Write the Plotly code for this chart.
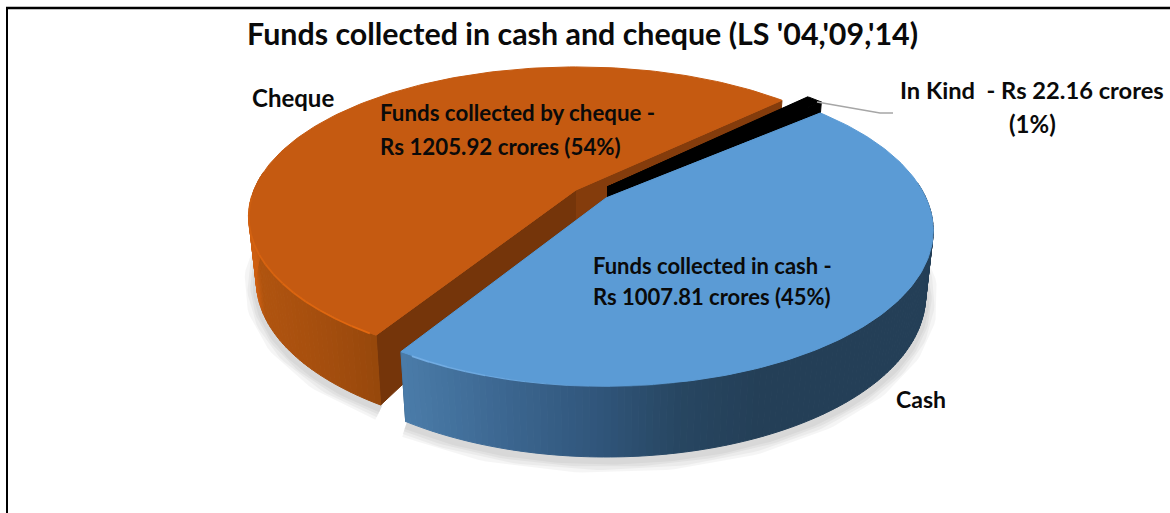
import math
import plotly.graph_objects as go

# ---------- data ----------
slices = ["Cash", "In Kind", "Cheque"]
amounts = [1007.81, 22.16, 1205.92]
title_text = "Funds collected in cash and cheque (LS '04,'09,'14)"
category_labels = ["Cheque", "Cash"]
cheque_lines = ["Funds collected by cheque -", "Rs 1205.92 crores (54%)"]
cash_lines = ["Funds collected in cash -", "Rs 1007.81 crores (45%)"]
kind_lines = ["In Kind  - Rs 22.16 crores", "(1%)"]

# ---------- projection of the tilted pie ----------
W, H = 1170, 513
START_DEG = 121.8
TOTAL = sum(amounts)
apex = {"Cash": (606, 198), "In Kind": (607, 187), "Cheque": (576, 190)}
tilt = {"Cash": (320.0, 148.7, 0.209), "In Kind": (320.0, 148.7, 0.209), "Cheque": (322.0, 145.0, 0.178)}
top_color = {"Cash": "#5B9BD5", "In Kind": "#000000", "Cheque": "#C55A11"}
front_wall = {"Cash": "#2E5574", "In Kind": "#000000", "Cheque": "#843C0C"}
back_wall = {"Cash": "#2E5574", "In Kind": "#000000", "Cheque": "#75350A"}

blue_stops = [(405, (74, 123, 168)), (500, (60, 103, 145)), (600, (48, 85, 122)),
              (680, (39, 70, 97)), (760, (36, 63, 87)), (940, (36, 63, 87))]
orange_stops = [(250, (205, 95, 18)), (258, (176, 84, 15)), (320, (165, 78, 14)),
                (382, (149, 71, 11)), (600, (149, 71, 11))]


def project(name, deg):
    apx = apex[name]
    a, b, k = tilt[name]
    t = math.radians(deg)
    u, v = math.cos(t), math.sin(t)
    d = 1 - k * v
    return apx[0] + a * u / d, apx[1] + b * v / d, v


def base(name, deg):
    apx = apex[name]
    x, y, v = project(name, deg)
    return apx[0] + (x - apx[0]) * 0.977, y + 63 + 8 * v


def ramp(stops, x):
    if x <= stops[0][0]:
        return stops[0][1]
    for (x0, c0), (x1, c1) in zip(stops, stops[1:]):
        if x <= x1:
            f = (x - x0) / (x1 - x0)
            return tuple(c0[i] + (c1[i] - c0[i]) * f for i in range(3))
    return stops[-1][1]


def css(c):
    return "rgb(%d,%d,%d)" % tuple(int(round(a)) for a in c)


fig = go.Figure()


def poly(xs, ys, color):
    fig.add_trace(go.Scatter(x=xs, y=ys, mode="lines", fill="toself", fillcolor=color,
                             line=dict(color=color, width=1), hoverinfo="skip", showlegend=False))


def path(xs, ys, color, width):
    fig.add_trace(go.Scatter(x=xs, y=ys, mode="lines", line=dict(color=color, width=width),
                             hoverinfo="skip", showlegend=False))


ranges = {}
angle = START_DEG
for name, amount in zip(slices, amounts):
    span = amount / TOTAL * 360
    ranges[name] = (angle - span, angle)
    angle -= span


def arc(name, n=160):
    a0, a1 = ranges[name]
    return [a0 + (a1 - a0) * i / n for i in range(n + 1)]


# soft ground shadow
for name in ["Cheque", "Cash"]:
    degs = [d for d in arc(name) if math.sin(math.radians(d)) > -0.12]
    pts = [base(name, d) for d in degs]
    xs = [p[0] for p in pts]
    ys = [p[1] + 4 for p in pts]
    for width in (24, 18, 12, 7):
        path(xs, ys, "rgba(0,0,0,0.04)", width)


def draw(name, stops):
    apx = apex[name]
    a0, a1 = ranges[name]
    for deg, color in ((a0, back_wall[name]), (a1, front_wall[name])):
        x, y, _ = project(name, deg)
        bx, by = base(name, deg)
        poly([apx[0], x, bx, apx[0]], [apx[1], y, by, apx[1] + 32], color)
    if stops:
        degs = arc(name)
        for d0, d1 in zip(degs, degs[1:]):
            if math.sin(math.radians(d0)) < -0.12:
                continue
            p0, p1 = project(name, d0), project(name, d1)
            b0, b1 = base(name, d0), base(name, d1)
            c = ramp(stops, (p0[0] + p1[0]) / 2)
            poly([p0[0], p1[0], b1[0], b0[0], p0[0]], [p0[1], p1[1], b1[1], b0[1], p0[1]], css(c))
    pts = [project(name, d) for d in arc(name)]
    poly([apx[0]] + [p[0] for p in pts] + [apx[0]],
         [apx[1]] + [p[1] for p in pts] + [apx[1]], top_color[name])


def bevel(name, lo, hi, c_lo, c_hi, w_lo, w_hi):
    degs = [d for d in arc(name) if lo < d < hi]
    for d0, d1 in zip(degs[::3], degs[3::3]):
        f = (d0 - lo) / (hi - lo)
        c = tuple(c_lo[i] + (c_hi[i] - c_lo[i]) * f for i in range(3))
        p0, p1 = project(name, d0), project(name, d1)
        path([p0[0], p1[0]], [p0[1] + 0.5, p1[1] + 0.5], css(c), w_lo + (w_hi - w_lo) * f)


draw("Cheque", orange_stops)
bevel("Cheque", -238.2, -180, (226, 104, 16), (204, 94, 17), 1.8, 1.8)

draw("In Kind", None)
draw("Cash", blue_stops)
bevel("Cash", 80, 122, (91, 155, 213), (118, 176, 230), 0.2, 2)

# leader line of the In Kind label
leader_x = [817, 880, 893]
leader_y = [102, 113, 113]
path(leader_x, leader_y, "#A6A6A6", 1.5)

FONT = "Lato"


def label(text, x, y, size, anchor="left"):
    fig.add_annotation(x=x, y=y, text="<b>%s</b>" % text, showarrow=False, xanchor=anchor, yanchor="middle",
                       font=dict(family=FONT, size=size, color="#0A0A0A"))


label(title_text, 582, 33, 30.4, "center")
label(category_labels[0], 250, 97, 24)
label(category_labels[1], 894, 399, 23)
label(cheque_lines[0], 378, 112, 22.3)
label(cheque_lines[1], 378, 146, 22.3)
label(cash_lines[0], 591, 265, 22)
label(cash_lines[1], 591, 296, 22)
label(kind_lines[0], 898, 90, 23.7)
label(kind_lines[1], 1032, 123, 24, "center")

# frame of the picture
fig.add_shape(type="line", x0=7, x1=7, y0=8, y1=513, line=dict(color="#000000", width=2))
fig.add_shape(type="line", x0=6, x1=1170, y0=8, y1=8, line=dict(color="#000000", width=2.5))

fig.update_layout(
    width=W, height=H, margin=dict(l=0, r=0, t=0, b=0),
    paper_bgcolor="white", plot_bgcolor="white", showlegend=False,
    xaxis=dict(range=[0, W], visible=False, fixedrange=True),
    yaxis=dict(range=[H, 0], visible=False, fixedrange=True),
)
fig.write_html("out.html", config={"displayModeBar": False},
               post_script="document.body.style.margin='0';document.documentElement.style.overflow='hidden';")
